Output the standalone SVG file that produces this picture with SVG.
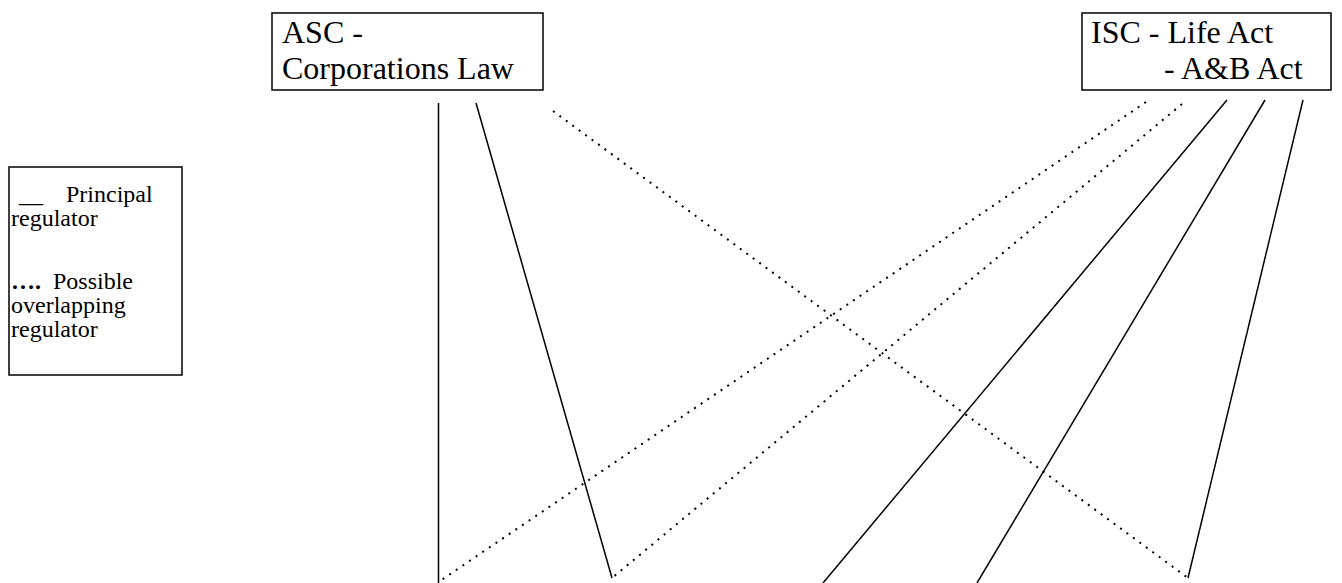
<svg xmlns="http://www.w3.org/2000/svg" width="1342" height="583" viewBox="0 0 1342 583">
<style>
.box{fill:#fff;stroke:#000;stroke-width:1.5}
.t{font-family:"Liberation Serif","Times New Roman",serif;fill:#000}
.big{font-size:32px}
.sm{font-size:24px}
.solid{stroke:#000;stroke-width:1.5;fill:none}
.dot{stroke:#000;stroke-width:2;fill:none;stroke-dasharray:2 6}
</style>
<rect width="1342" height="583" fill="#fff"/>
<g id="connectors">
<line class="solid" x1="438.5" y1="103" x2="438.5" y2="583"/>
<line class="solid" x1="476" y1="103" x2="612" y2="578"/>
<line class="dot" x1="553" y1="111" x2="1188" y2="578"/>
<line class="dot" x1="1146" y1="102" x2="440" y2="581"/>
<line class="dot" x1="1182" y1="104" x2="612" y2="578"/>
<line class="solid" x1="1227" y1="100" x2="823" y2="583"/>
<line class="solid" x1="1265" y1="100" x2="977" y2="583"/>
<line class="solid" x1="1303" y1="100" x2="1188" y2="578"/>
</g>
<g id="asc">
<rect class="box" x="272" y="13" width="271" height="77"/>
<text class="t big" x="282" y="43">ASC -</text>
<text class="t big" x="282" y="79">Corporations Law</text>
</g>
<g id="isc">
<rect class="box" x="1082" y="13" width="249" height="77"/>
<text class="t big" x="1091" y="43">ISC - Life Act</text>
<text class="t big" x="1164" y="79">- A&amp;B Act</text>
</g>
<g id="legend">
<rect class="box" x="9" y="167" width="173" height="208"/>
<text class="t sm" y="202"><tspan x="19">__</tspan><tspan x="66">Principal</tspan></text>
<text class="t sm" x="11" y="226">regulator</text>
<text class="t sm" y="289"><tspan x="11" font-weight="bold">….</tspan><tspan x="53">Possible</tspan></text>
<text class="t sm" x="11" y="313">overlapping</text>
<text class="t sm" x="11" y="337">regulator</text>
</g>
</svg>
